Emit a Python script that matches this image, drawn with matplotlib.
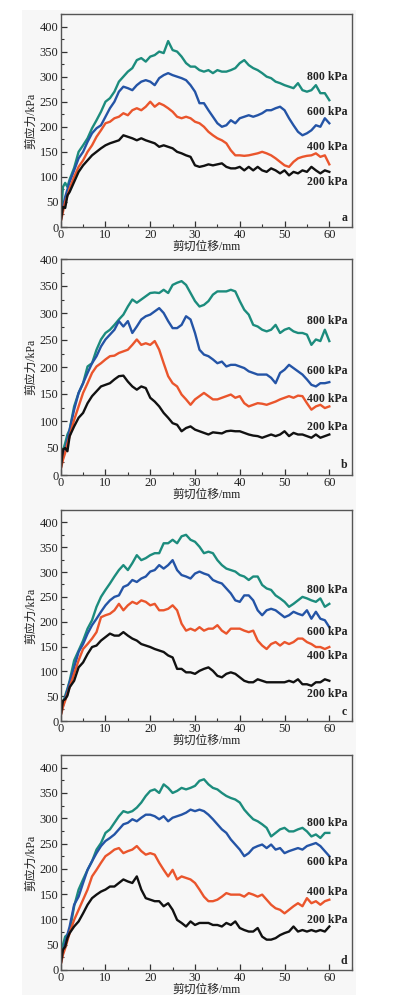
import matplotlib
matplotlib.use('Agg')
import matplotlib.pyplot as plt
from matplotlib.patches import Rectangle
from matplotlib.ticker import MultipleLocator

plt.rcParams['font.family'] = ['Liberation Serif', 'Noto Sans CJK SC']

# shear displacement (mm), shared by every curve
disp = [0, 0.5, 1, 1.5, 2] + list(range(3, 61))

# panel a
a_800 = [15, 80, 88, 80, 95, 118, 150, 163, 177, 197, 213, 230, 250, 257, 270, 290, 300, 310, 317, 333, 337,
         330, 340, 343, 350, 347, 371, 353, 350, 340, 327, 320, 320, 313, 310, 313, 307, 313, 310, 310, 313,
         317, 327, 333, 323, 317, 313, 307, 300, 297, 290, 287, 283, 280, 277, 287, 273, 270, 273, 283, 267,
         267, 253]
a_600 = [12, 40, 60, 75, 90, 113, 137, 150, 170, 187, 197, 203, 220, 237, 250, 270, 280, 277, 273, 283, 290,
         293, 290, 283, 297, 303, 307, 303, 300, 297, 293, 283, 270, 247, 247, 233, 220, 207, 200, 203, 213,
         207, 217, 220, 223, 220, 223, 227, 233, 233, 237, 240, 233, 217, 203, 190, 183, 187, 193, 203, 200,
         217, 207]
a_400 = [10, 30, 50, 62, 77, 100, 120, 133, 150, 163, 180, 193, 207, 210, 217, 220, 227, 223, 233, 237, 233,
         240, 250, 240, 247, 243, 237, 230, 220, 217, 220, 217, 210, 207, 200, 190, 183, 177, 173, 167, 153,
         143, 143, 142, 143, 145, 147, 150, 147, 143, 137, 130, 123, 120, 130, 137, 140, 142, 143, 147, 140,
         143, 125]
a_200 = [10, 40, 38, 63, 70, 90, 110, 123, 133, 143, 150, 157, 163, 167, 170, 173, 183, 180, 177, 173, 177,
         173, 170, 167, 160, 163, 160, 157, 150, 147, 143, 140, 123, 120, 122, 125, 123, 125, 127, 120, 117,
         117, 120, 113, 120, 113, 120, 113, 110, 117, 113, 107, 113, 103, 110, 107, 113, 110, 120, 113, 107,
         113, 110]

# panel b
b_800 = [15, 45, 59, 75, 84, 127, 152, 170, 201, 207, 232, 251, 263, 269, 278, 288, 297, 312, 325, 319, 325,
         331, 337, 338, 337, 343, 337, 352, 356, 359, 352, 337, 322, 312, 315, 322, 334, 340, 340, 340, 343,
         340, 322, 306, 297, 278, 275, 269, 266, 269, 278, 263, 269, 272, 266, 263, 263, 260, 241, 251, 248,
         269, 248]
b_600 = [12, 35, 47, 65, 84, 121, 152, 170, 189, 207, 220, 238, 251, 260, 269, 285, 275, 285, 263, 275, 288,
         294, 297, 303, 309, 300, 285, 272, 272, 278, 294, 288, 263, 232, 223, 220, 214, 207, 210, 201, 204,
         204, 201, 198, 192, 189, 186, 186, 186, 180, 170, 189, 195, 204, 198, 192, 186, 177, 167, 164, 170,
         170, 172]
b_400 = [10, 28, 41, 58, 72, 102, 127, 152, 170, 189, 201, 207, 214, 220, 221, 226, 229, 232, 241, 251, 241,
         244, 241, 248, 232, 207, 183, 170, 164, 149, 140, 130, 140, 146, 152, 146, 140, 140, 143, 146, 149,
         143, 146, 133, 127, 130, 133, 132, 130, 133, 136, 140, 143, 146, 143, 147, 146, 133, 121, 127, 130,
         124, 127]
b_200 = [10, 47, 50, 44, 72, 90, 106, 115, 133, 146, 155, 164, 167, 170, 177, 183, 184, 173, 164, 158, 164,
         161, 143, 136, 127, 115, 106, 96, 93, 81, 87, 90, 84, 81, 78, 75, 79, 78, 77, 81, 82,
         81, 81, 78, 75, 73, 72, 69, 72, 75, 72, 75, 81, 72, 78, 75, 75, 72, 69, 75, 69,
         72, 75]

# panel c
c_800 = [15, 35, 51, 65, 81, 122, 142, 162, 186, 203, 230, 250, 264, 277, 291, 304, 314, 304, 318, 334, 324,
         328, 334, 338, 338, 358, 358, 365, 358, 372, 375, 365, 361, 351, 338, 341, 338, 324, 314, 307, 304,
         301, 294, 291, 284, 291, 291, 274, 267, 264, 253, 247, 240, 230, 236, 243, 250, 247, 243, 240, 247,
         230, 236]
c_600 = [12, 30, 47, 62, 78, 108, 139, 155, 176, 193, 206, 220, 233, 243, 250, 253, 270, 274, 284, 280, 287,
         291, 301, 304, 314, 307, 314, 324, 304, 294, 291, 287, 297, 301, 297, 294, 284, 280, 277, 267, 257,
         243, 240, 253, 253, 243, 223, 213, 223, 226, 223, 216, 209, 213, 220, 216, 213, 223, 206, 220, 206,
         203, 189]
c_400 = [10, 28, 41, 55, 68, 95, 122, 145, 155, 166, 179, 209, 213, 216, 223, 236, 223, 233, 240, 236, 243,
         240, 233, 236, 223, 223, 226, 233, 223, 196, 182, 186, 182, 189, 182, 186, 186, 193, 182, 176, 186,
         186, 186, 182, 179, 182, 162, 152, 145, 155, 159, 152, 159, 155, 159, 166, 166, 159, 155, 149, 149,
         145, 149]
c_200 = [10, 41, 44, 51, 68, 81, 108, 118, 135, 149, 152, 162, 169, 176, 172, 172, 179, 172, 166, 162, 155,
         152, 149, 145, 142, 139, 132, 128, 105, 105, 98, 98, 95, 101, 105, 108, 101, 91, 88, 95, 98,
         95, 88, 81, 78, 78, 84, 81, 78, 78, 78, 78, 78, 81, 78, 84, 74, 74, 71, 78, 78,
         84, 81]

# panel d
d_800 = [15, 50, 66, 70, 76, 126, 159, 179, 198, 215, 238, 251, 271, 278, 291, 304, 314, 311, 314, 321, 331,
         344, 354, 357, 350, 367, 360, 350, 354, 360, 357, 360, 364, 374, 377, 367, 360, 357, 350, 344, 340,
         337, 331, 317, 307, 298, 294, 288, 281, 264, 271, 278, 281, 274, 274, 278, 281, 274, 264, 268, 261,
         271, 271]
d_600 = [12, 35, 53, 70, 86, 129, 145, 172, 198, 215, 231, 245, 255, 261, 268, 278, 288, 291, 298, 294, 301,
         307, 307, 304, 298, 304, 294, 301, 304, 307, 311, 317, 314, 317, 314, 307, 298, 288, 278, 271, 258,
         248, 238, 225, 231, 241, 245, 248, 241, 248, 238, 241, 231, 235, 238, 241, 238, 245, 248, 251, 245,
         235, 225]
d_400 = [10, 30, 43, 58, 73, 99, 119, 139, 159, 185, 198, 212, 225, 231, 238, 241, 231, 235, 238, 245, 235,
         228, 231, 228, 212, 198, 185, 198, 179, 185, 182, 179, 172, 159, 145, 136, 136, 139, 145, 152, 149,
         149, 149, 145, 152, 149, 145, 149, 139, 129, 122, 119, 112, 119, 126, 132, 126, 142, 132, 136, 129,
         136, 139]
d_200 = [10, 40, 46, 63, 73, 86, 96, 112, 129, 142, 149, 155, 159, 165, 165, 172, 179, 175, 172, 185, 159,
         142, 139, 136, 136, 126, 132, 119, 99, 93, 86, 96, 89, 93, 93, 93, 89, 89, 86, 93, 89,
         96, 83, 79, 76, 76, 83, 66, 60, 60, 63, 69, 73, 76, 86, 76, 79, 76, 79, 76, 79,
         76, 86]

series_names = ['800 kPa', '600 kPa', '400 kPa', '200 kPa']
panel_letters = ['a', 'b', 'c', 'd']
panels = [[a_800, a_600, a_400, a_200],
          [b_800, b_600, b_400, b_200],
          [c_800, c_600, c_400, c_200],
          [d_800, d_600, d_400, d_200]]
colors = ['#1c8c7d', '#2454a6', '#ea552c', '#111111']

# layout (figure pixels 398 x 1002)
W, H = 398, 1002
ax_top = [14, 259, 510, 755]
ax_bot = [227, 475, 721, 970]
ymax = [425, 400, 425, 425]
label_y = [[300, 230, 160, 90],
           [286, 192, 141, 88],
           [263, 180, 130, 55],
           [290, 213, 155, 99]]

fig = plt.figure(figsize=(W / 100, H / 100), dpi=100)
fig.patches.append(Rectangle((22 / W, 1 - 995 / H), (356 - 22) / W, (995 - 10) / H,
                             transform=fig.transFigure, facecolor='#f7f7f7',
                             edgecolor='none', zorder=-1))

for i in range(4):
    ax = fig.add_axes([60.7 / W, 1 - ax_bot[i] / H, 291 / W, (ax_bot[i] - ax_top[i]) / H])
    ax.set_facecolor('none')
    for vals, c, name, ly in zip(panels[i], colors, series_names, label_y[i]):
        ax.plot(disp, vals, color=c, lw=1.7, solid_joinstyle='round')
        ax.text(59.6, ly, name, ha='center', va='center', fontsize=8.5,
                fontweight='bold', color='#222222')
    ax.text(63.3, 18, panel_letters[i], ha='center', va='center', fontsize=8.5,
            fontweight='bold', color='#222222')
    ax.set_xlim(0, 65)
    ax.set_ylim(0, ymax[i])
    ax.xaxis.set_major_locator(MultipleLocator(10))
    ax.xaxis.set_minor_locator(MultipleLocator(5))
    ax.yaxis.set_major_locator(MultipleLocator(50))
    ax.yaxis.set_minor_locator(MultipleLocator(25))
    ax.tick_params(which='both', direction='in', colors='#333333', labelcolor='#222222',
                   labelsize=9, pad=1.5)
    ax.tick_params(which='major', length=4, width=0.9)
    ax.tick_params(which='minor', length=2, width=0.8)
    for s in ax.spines.values():
        s.set_color('#555555')
        s.set_linewidth(1.0)
    ax.set_xlabel('剪切位移/mm', fontsize=8.5, labelpad=0, color='#222222')
    ax.set_ylabel('剪应力/kPa', fontsize=8.5, labelpad=2, color='#222222')

fig.savefig('out.png', dpi=100)
